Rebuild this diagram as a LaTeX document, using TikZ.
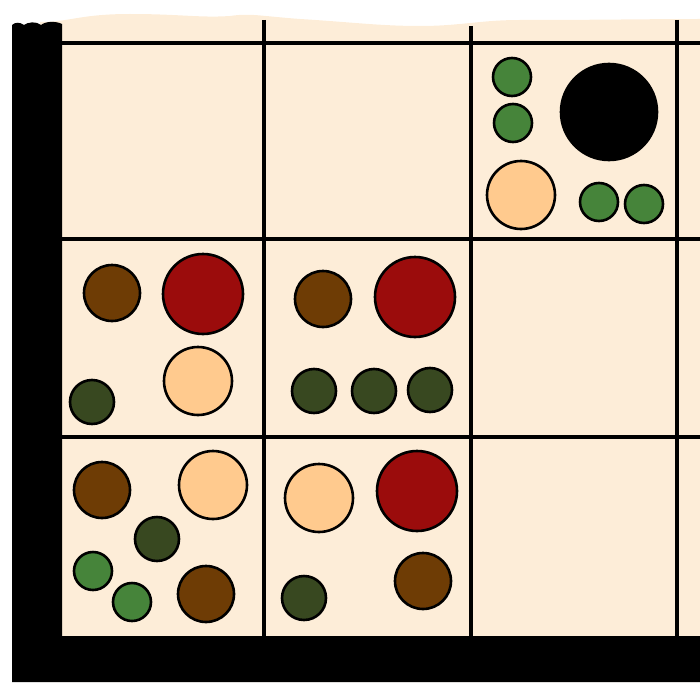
\documentclass[tikz,border=0pt]{standalone}
\usetikzlibrary{calc}
\definecolor{cream}{RGB}{253,237,216}
\definecolor{cbrown}{RGB}{110,60,5}
\definecolor{cred}{RGB}{155,12,12}
\definecolor{cpeach}{RGB}{255,202,142}
\definecolor{cdkgreen}{RGB}{56,72,32}
\definecolor{cgreen}{RGB}{70,132,58}
\tikzset{
  gridline/.style={line width=3.8pt, black},
  piece/.style={draw=black, line width=2.6pt},
}
\newcommand{\pc}[4]{\fill[#1] (#2,#3) circle (#4); \draw[piece] (#2,#3) circle (#4);}
\begin{document}
\begin{tikzpicture}[x=1pt,y=-1pt]
\useasboundingbox (0,0) rectangle (700,682);
% cream paper with wavy top edge
\fill[cream] (40,30) -- (40,22) .. controls (70,22) and (80,14) .. (130,14)
  .. controls (180,14) and (200,18) .. (230,16) .. controls (250,13) and (260,16) .. (300,19)
  .. controls (350,22) and (380,26) .. (420,26) .. controls (460,26) and (480,20) .. (520,20)
  .. controls (600,20) and (650,19) .. (700,19) -- (700,682) -- (40,682) -- cycle;
% grid lines
\coordinate (h1l) at (62,43);  \coordinate (h1r) at (700,43);
\coordinate (h2l) at (62,239); \coordinate (h2r) at (700,239);
\coordinate (h3l) at (62,437); \coordinate (h3r) at (700,437);
\coordinate (v1t) at (264,20); \coordinate (v1b) at (264,640);
\coordinate (v2t) at (471,26); \coordinate (v2b) at (471,640);
\coordinate (v3t) at (677,20); \coordinate (v3b) at (677,640);
\draw[gridline] (h1l) -- (h1r);
\draw[gridline] (h2l) -- (h2r);
\draw[gridline] (h3l) -- (h3r);
\draw[gridline] (v1t) -- (v1b);
\draw[gridline] (v2t) -- (v2b);
\draw[gridline] (v3t) -- (v3b);
% black frame: left bar with slightly uneven top, bottom bar
\fill[black] (12,682) -- (12,25) .. controls (15,22) and (20,22) .. (24,25)
  .. controls (28,22) and (36,21) .. (41,25) .. controls (46,21) and (56,21) .. (62,24)
  -- (62,636) -- (700,636) -- (700,682) -- cycle;
% top-right cell
\pc{cgreen}{512}{77}{19}
\pc{cgreen}{513}{123}{19}
\pc{black}{609}{112}{48}
\pc{cpeach}{521}{195}{34}
\pc{cgreen}{599}{202}{19}
\pc{cgreen}{644}{204}{19}
% middle-left cell
\pc{cbrown}{112}{293}{28}
\pc{cred}{203}{294}{40}
\pc{cpeach}{198}{381}{34}
\pc{cdkgreen}{92}{402}{22}
% middle-centre cell
\pc{cbrown}{323}{299}{28}
\pc{cred}{415}{297}{40}
\pc{cdkgreen}{314}{391}{22}
\pc{cdkgreen}{374}{391}{22}
\pc{cdkgreen}{430}{390}{22}
% bottom-left cell
\pc{cbrown}{102}{490}{28}
\pc{cpeach}{213}{485}{34}
\pc{cdkgreen}{157}{539}{22}
\pc{cgreen}{93}{571}{19}
\pc{cgreen}{132}{602}{19}
\pc{cbrown}{206}{594}{28}
% bottom-centre cell
\pc{cpeach}{319}{498}{34}
\pc{cred}{417}{491}{40}
\pc{cdkgreen}{304}{598}{22}
\pc{cbrown}{423}{581}{28}
\end{tikzpicture}
\end{document}
